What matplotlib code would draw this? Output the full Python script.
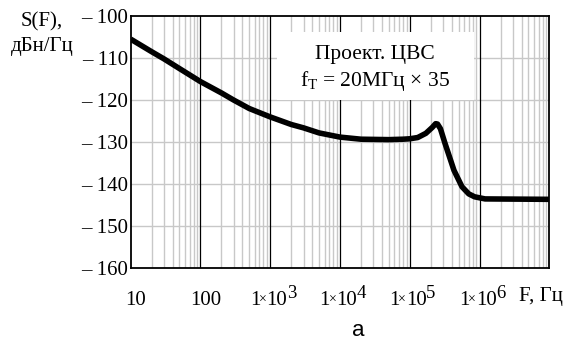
import matplotlib
matplotlib.use("Agg")
import matplotlib.pyplot as plt
import matplotlib.transforms as mtransforms
from matplotlib.ticker import NullFormatter, FixedLocator

plt.rcParams['font.family'] = ['Liberation Serif', 'DejaVu Serif']
plt.rcParams['mathtext.fontset'] = 'custom'
plt.rcParams['mathtext.rm'] = 'Liberation Serif'
plt.rcParams['mathtext.it'] = 'Liberation Serif:italic'

# Phase noise spectral density of the designed synthesizer
freq_hz = [10, 20, 30, 50, 100, 200, 300, 500, 1e3, 2e3, 3e3, 5e3, 1e4, 2e4,
           5e4, 8e4, 1e5, 1.3e5, 1.7e5, 2.1e5, 2.35e5, 2.5e5, 2.75e5, 3.2e5,
           4.3e5, 5.6e5, 7e5, 8.5e5, 1.2e6, 1e7]
noise_dbc = [-105.5, -108.5, -110.2, -112.5, -115.6, -118.3, -120.0, -122.0,
             -124.0, -125.8, -126.6, -127.8, -128.8, -129.3, -129.4, -129.3,
             -129.2, -128.9, -127.9, -126.5, -125.6, -125.7, -126.8, -130.3,
             -136.7, -140.6, -142.3, -143.0, -143.5, -143.6]

y_ticks = [-100, -110, -120, -130, -140, -150, -160]
x_ticks = [10, 100, 1e3, 1e4, 1e5, 1e6]
x_tick_labels = ["10", "100", "10", "10", "10", "10"]
x_tick_powers = ["", "", "3", "4", "5", "6"]

FS = 15

fig = plt.figure(figsize=(5.68, 3.42), dpi=100)
ax = fig.add_axes([0.2301, 0.2155, 0.7370, 0.7377])
ax.set_xscale('log')
ax.set_xlim(10, 1e7)
ax.set_ylim(-160, -100)

# grid: grey minor verticals, black decade verticals, grey horizontals
for dec in [10, 100, 1e3, 1e4, 1e5, 1e6]:
    for m in range(2, 10):
        ax.axvline(dec * m, color='#c8c8c8', lw=1.0, zorder=1)
for dec in [100, 1e3, 1e4, 1e5, 1e6]:
    ax.axvline(dec, color='black', lw=0.9, zorder=1.5)
for yv in y_ticks[1:-1]:
    ax.axhline(yv, color='#c8c8c8', lw=1.0, zorder=1)

ax.plot(freq_hz, noise_dbc, color='black', lw=4.0, solid_joinstyle='round',
        solid_capstyle='butt', zorder=3)

for s in ax.spines.values():
    s.set_linewidth(1.3)
    s.set_zorder(4)

ax.tick_params(length=0)
ax.xaxis.set_major_locator(FixedLocator(x_ticks))
ax.xaxis.set_minor_locator(FixedLocator([]))
ax.xaxis.set_major_formatter(NullFormatter())
ax.set_yticks(y_ticks)
ax.set_yticklabels(["\u2013 " + str(abs(v)) for v in y_ticks], fontsize=FS)
ax.tick_params(axis='y', pad=2)

# x tick labels: "1×10" with a small multiplication sign and a raised exponent
base = mtransforms.blended_transform_factory(ax.transData, ax.transAxes)


def shifted(dx_px, dy_px=0):
    return base + mtransforms.ScaledTranslation(dx_px / 100, dy_px / 100,
                                                fig.dpi_scale_trans)


LY = -0.128
for xv, lab, pw in zip(x_ticks, x_tick_labels, x_tick_powers):
    if pw:
        ax.text(xv, LY, lab, transform=shifted(17), ha='right', va='center',
                fontsize=FS)
        ax.text(xv, LY, "×", transform=shifted(-3.5, 0.5), ha='right',
                va='center', fontsize=10)
        ax.text(xv, LY, "1", transform=shifted(-10), ha='right', va='center',
                fontsize=FS)
        ax.text(xv, LY, pw, transform=shifted(16.5, 7), ha='left', va='center',
                fontsize=FS - 1.5)
    else:
        ax.text(xv, LY, lab, transform=shifted(5), ha='center', va='center',
                fontsize=FS)

fig.text(541 / 568, 1 - 297 / 342, "F, Гц", ha='center', va='center', fontsize=FS)
fig.text(42 / 568, 1 - 22 / 342, "S(F),", ha='center', va='center', fontsize=FS)
fig.text(42 / 568, 1 - 46 / 342, "дБн/Гц", ha='center', va='center', fontsize=FS)
fig.text(358 / 568, 1 - 330 / 342, "а", ha='center', va='center', fontsize=16,
         family=['Liberation Sans', 'DejaVu Sans'])

# annotation panel
box_x0, box_x1 = 277 / 568, 474 / 568
box_y0, box_y1 = 1 - 100 / 342, 1 - 32 / 342
fig.patches.append(plt.Rectangle((box_x0, box_y0), box_x1 - box_x0, box_y1 - box_y0,
                                 transform=fig.transFigure, facecolor='white',
                                 edgecolor='none', zorder=5))
fig.text(375 / 568, 1 - 55 / 342, "Проект. ЦВС", ha='center', va='center',
         fontsize=FS + 0.5, zorder=6)
fig.text(375 / 568, 1 - 81 / 342, r"f$_{\mathrm{Т}}$ = 20МГц × 35", ha='center',
         va='center', fontsize=FS + 0.5, zorder=6)

fig.savefig("out.png", dpi=100)
